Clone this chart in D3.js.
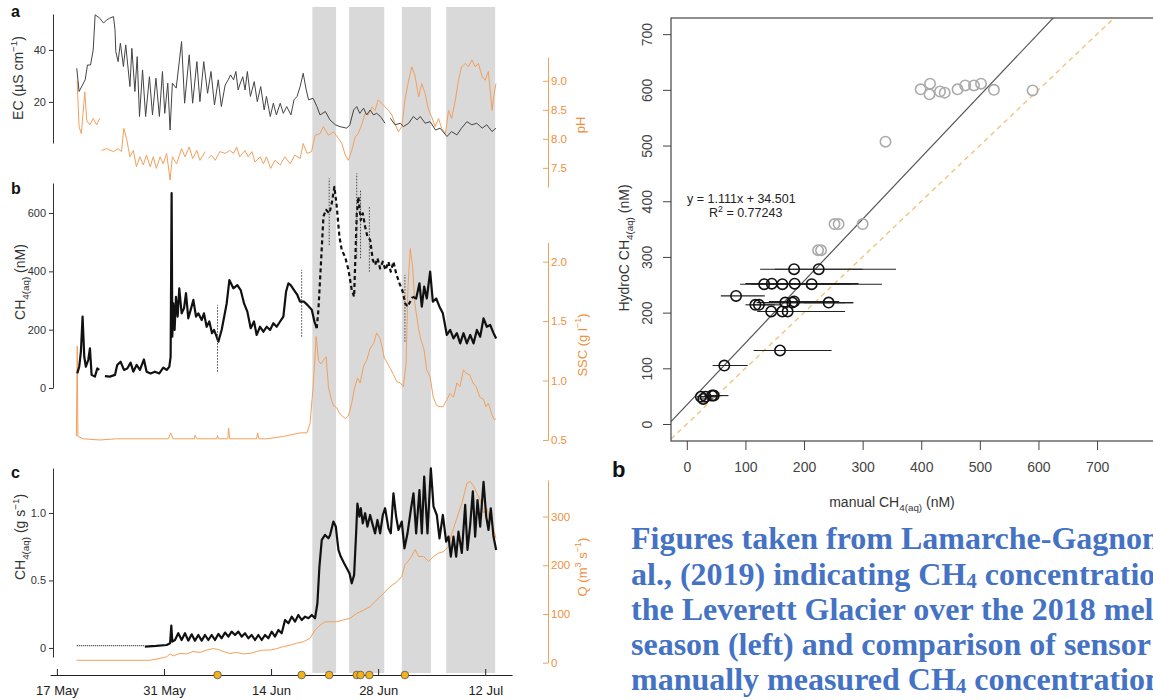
<!DOCTYPE html>
<html lang="en">
<head>
<meta charset="utf-8" />
<title>CH4 at Leverett Glacier, 2018 melt season</title>
<script src="https://d3js.org/d3.v7.min.js"></script>
<style>
    body { margin: 0; padding: 0; background: #fff; }
    svg { display: block; font-family: "Liberation Sans", Arial, sans-serif; }
</style>
</head>
<body>
<svg id="chart"></svg>
<script>
    // ---- time axis (days after 17 May 2018) ----
    var dateTicks = [0, 14, 28, 42, 56];
    var dateLabels = ["17 May", "31 May", "14 Jun", "28 Jun", "12 Jul"];
    var bandStart = [33.4, 38.2, 45.1, 50.9];
    var bandEnd = [36.5, 42.8, 48.9, 57.3];
    // manual sampling days and their CH4 ranges (nM)
    var sampleDays = [21.0, 32.0, 35.6, 39.2, 39.7, 40.85, 45.5];
    var sampleLow = [56, 176, 490, 445, 445, 399, 159];
    var sampleHigh = [285, 405, 719, 736, 679, 622, 388];

    // ---- tick values ----
    var ecTicks = [20, 40];
    var phTicks = [7.5, 8.0, 8.5, 9.0];
    var phLabels = ["7.5", "8.0", "8.5", "9.0"];
    var ch4Ticks = [0, 200, 400, 600];
    var sscTicks = [0.5, 1.0, 1.5, 2.0];
    var sscLabels = ["0.5", "1.0", "1.5", "2.0"];
    var fluxTicks = [0, 0.5, 1.0];
    var fluxLabels = ["0", "0.5", "1.0"];
    var qTicks = [0, 100, 200, 300];
    var scatterTicks = [0, 100, 200, 300, 400, 500, 600, 700];

    // ---- panel a: EC (uS/cm) and pH ----
    var ecData = [[2.6,32.9],[2.9,24],[3.7,28.5],[4.0,34.2],[4.4,34.2],[4.75,40],[5.0,53.5],[5.6,52.2],[6.1,50.3],[6.5,51.5],[6.9,52.2],[7.4,52.8],[7.6,47.7],[7.7,39.4],[8.0,35.5],[8.3,42.6],[8.7,33.6],[9.0,41.9],[9.55,25.9],[9.8,40.6],[10.2,24],[10.5,37.4],[10.8,14.4],[11.2,32.3],[11.6,14.4],[12.1,29.7],[12.5,15],[12.95,29.1],[13.4,14.4],[13.8,31.7],[14.1,15.6],[14.5,27.2],[14.8,9.2],[15.1,27.2],[15.6,25.3],[16.3,43.2],[16.7,19.5],[17.3,38.1],[17.75,19.5],[18.3,35.5],[18.7,20.1],[19.2,35.5],[19.7,23.3],[20.15,31.7],[20.6,18.8],[21.1,28.5],[21.5,18.2],[22.0,26.5],[22.4,28.5],[22.7,30.4],[23.1,28.5],[23.4,31.7],[23.7,24.6],[23.9,26.5],[24.3,29.7],[24.6,24.6],[24.9,31.7],[25.3,22.1],[25.8,27.8],[26.2,20.1],[26.65,25.9],[27.1,16.9],[27.4,22.1],[27.9,14.4],[28.3,19.5],[28.7,15],[29.2,19.5],[29.6,15.6],[30.05,18.2],[30.6,15],[31.0,20.8],[31.4,22.1],[31.8,25.9],[32.2,31],[32.6,24.6],[32.9,20.8],[33.5,21.4],[34.0,18.2],[34.4,15],[35.1,16.3],[35.7,13.1],[36.4,11.2],[37.0,10.5],[37.9,9.9],[38.3,11.2],[38.8,16.9],[39.2,18.2],[39.6,15.6],[40.1,17.6],[40.5,15],[40.95,16.9],[41.4,15],[41.8,15.6],[42.3,14.4],[42.9,11.8],[43.2,null],[43.6,13.7],[44.2,11.2],[44.9,11.8],[45.3,10.5],[46.0,11.8],[46.6,14.4],[47.1,13.1],[47.5,14.4],[48.15,11.8],[48.8,12.4],[49.5,9.2],[50.1,9.9],[51.0,6.7],[51.6,8.6],[52.3,7.3],[52.9,9.9],[53.6,12.4],[54.25,11.2],[54.9,11.8],[55.6,9.9],[56.2,11.2],[56.9,8.6],[57.4,9.9]];
    var phData = [[2.65,9.0],[2.9,8.21],[3.2,8.09],[3.65,8.81],[3.9,8.32],[4.3,8.24],[4.75,8.35],[5.2,8.24],[5.6,8.35],[5.7,null],[5.85,7.8],[6.5,7.83],[7.4,7.78],[8.0,7.83],[8.45,7.78],[8.75,8.18],[9.1,8.01],[9.55,7.69],[10.0,7.8],[10.4,7.52],[10.85,7.69],[11.3,7.55],[11.7,7.72],[12.2,7.52],[12.6,7.69],[13.0,7.49],[13.5,7.69],[13.9,7.57],[14.35,7.75],[14.8,7.29],[15.1,7.69],[15.65,7.57],[16.3,7.83],[16.75,7.69],[17.3,7.86],[17.75,7.66],[18.3,7.8],[18.7,7.63],[19.4,7.78],[19.6,null],[19.8,7.66],[20.2,7.72],[20.7,7.63],[21.3,7.78],[22.0,7.75],[22.6,7.8],[23.1,7.75],[23.5,7.86],[23.9,7.69],[24.6,7.8],[25.0,7.69],[25.5,7.78],[25.9,7.6],[26.6,7.69],[27.0,7.57],[27.4,7.69],[27.95,7.49],[28.5,7.63],[29.2,7.55],[29.8,7.69],[30.5,7.57],[31.1,7.72],[31.8,7.66],[32.2,7.92],[32.7,7.75],[33.3,7.78],[33.75,8.06],[34.4,8.09],[34.85,8.21],[35.5,8.06],[36.15,8.12],[36.8,8.01],[37.25,7.92],[37.7,7.72],[38.1,7.63],[38.55,7.8],[39.0,8.03],[39.4,8.09],[39.9,8.26],[40.3,8.44],[40.7,8.41],[41.2,8.55],[41.6,8.49],[42.0,8.67],[42.5,8.61],[42.9,8.55],[43.35,8.49],[43.8,8.41],[44.2,8.26],[44.65,8.12],[45.1,8.21],[45.5,8.67],[45.95,8.98],[46.4,9.24],[46.8,9.1],[47.3,8.72],[47.7,8.95],[48.15,8.78],[48.6,8.49],[49.0,8.38],[49.45,8.21],[49.9,8.35],[50.3,8.18],[50.8,8.09],[51.2,8.49],[51.6,8.35],[52.1,8.67],[52.5,9.01],[52.9,9.24],[53.4,9.3],[53.8,9.24],[54.25,9.36],[54.7,9.24],[55.1,9.3],[55.6,9.07],[56.0,9.01],[56.4,9.16],[56.9,8.49],[57.1,8.72],[57.4,8.95]];

    // ---- panel b: CH4(aq) (nM) and SSC (g/l) ----
    var ch4SolidA = [[2.66,50],[2.92,73],[3.14,125],[3.36,245],[3.58,107],[3.79,73],[4.1,96],[4.32,136],[4.54,45],[4.97,39],[5.28,67],[5.54,62],[5.9,null],[6.28,41],[6.93,39],[7.59,45],[7.89,79],[8.33,90],[8.77,62],[9.2,67],[9.64,87],[9.99,56],[10.42,79],[10.86,62],[11.38,98],[11.73,56],[12.25,50],[12.82,56],[13.39,50],[13.91,70],[14.35,62],[14.7,73],[14.87,107],[15.0,668],[15.09,176],[15.22,290],[15.39,199],[15.57,313],[15.79,245],[16.0,342],[16.31,256],[16.62,273],[16.88,325],[17.18,239],[17.49,268],[17.84,302],[18.19,245],[18.49,256],[18.93,233],[19.23,256],[19.58,210],[19.93,228],[20.28,188],[20.54,199],[20.8,182],[21.11,159],[21.54,199],[22.2,290],[22.55,370],[23.07,342],[23.59,353],[24.03,336],[24.47,290],[24.9,262],[25.34,205],[25.77,228],[26.12,182],[26.56,210],[27.0,193],[27.43,210],[27.87,199],[28.3,222],[28.74,210],[29.18,228],[29.61,245],[29.96,330],[30.27,359],[30.57,353],[31.0,336],[31.44,319],[31.79,296],[32.32,296],[32.75,285],[33.32,268],[33.67,228],[33.97,205]];
    var ch4Dashed = [[33.97,205],[34.19,268],[34.5,416],[34.85,588],[35.19,611],[35.63,599],[35.94,634],[36.28,690],[36.59,622],[36.94,519],[37.24,473],[37.68,450],[38.12,405],[38.55,336],[38.86,313],[39.21,599],[39.42,656],[39.73,576],[39.99,599],[40.3,553],[40.6,519],[40.95,508],[41.3,439],[41.6,422],[41.91,445],[42.26,410],[42.61,433],[42.96,405],[43.35,433],[43.65,399],[44.0,433],[44.35,393],[44.79,359],[45.22,330],[45.53,290],[45.84,279],[46.18,296],[46.53,313]];
    var ch4SolidB = [[46.53,313],[46.97,307],[47.4,359],[47.71,279],[48.02,348],[48.36,307],[48.8,399],[49.15,296],[49.59,307],[50.02,279],[50.46,256],[50.98,182],[51.42,199],[51.85,170],[52.29,188],[52.73,153],[53.16,188],[53.6,153],[54.04,182],[54.47,153],[54.91,199],[55.34,176],[55.78,239],[56.21,210],[56.65,216],[57.09,188],[57.43,170]];
    var sscData = [[2.55,0.53],[2.66,1.29],[2.75,0.53],[3.45,0.51],[5.6,0.5],[7.8,0.51],[10.0,0.51],[12.2,0.51],[14.55,0.51],[14.87,0.56],[15.2,0.51],[18.0,0.51],[18.05,0.54],[18.3,0.51],[20.9,0.51],[21.0,0.54],[21.1,0.51],[22.35,0.51],[22.45,0.6],[22.6,0.51],[26.1,0.51],[26.25,0.56],[26.4,0.51],[27.43,0.51],[29.6,0.53],[31.8,0.56],[32.7,0.56],[33.1,0.64],[33.5,0.95],[33.9,1.37],[34.2,1.17],[34.5,1.14],[34.85,1.17],[35.2,1.2],[35.5,0.95],[35.8,0.86],[36.15,0.79],[36.6,0.77],[37.0,0.72],[37.7,0.68],[38.1,0.7],[38.55,0.81],[38.85,0.92],[39.3,1.02],[39.65,0.98],[40.1,1.12],[40.5,1.17],[40.95,1.27],[41.4,1.31],[41.8,1.4],[42.2,1.36],[42.5,1.29],[42.8,1.19],[43.1,1.16],[43.6,1.1],[44.0,1.05],[44.45,0.99],[44.9,0.98],[45.3,0.95],[45.65,1.14],[45.9,1.79],[46.2,2.11],[46.5,1.96],[46.8,1.65],[47.3,1.43],[47.6,1.34],[48.0,1.26],[48.35,1.09],[48.8,1.03],[49.2,0.86],[49.65,0.79],[50.1,0.78],[50.5,0.78],[50.98,0.84],[51.4,0.89],[51.85,0.86],[52.3,0.98],[52.7,0.95],[53.15,1.09],[53.5,1.06],[53.95,1.05],[54.4,0.98],[54.8,0.95],[55.3,0.86],[55.8,0.84],[56.1,0.78],[56.4,0.81],[56.9,0.71],[57.2,0.67],[57.4,0.68]];

    // ---- panel c: CH4 flux (g/s) and discharge Q (m3/s) ----
    var fluxDotted = [[2.6,0.017],[11.5,0.017]];
    var fluxData = [[11.5,0.01],[13.0,0.015],[14.35,0.022],[14.8,0.035],[14.96,0.165],[15.09,0.047],[15.44,0.059],[15.87,0.109],[16.31,0.059],[16.75,0.109],[17.18,0.054],[17.62,0.101],[18.05,0.054],[18.49,0.096],[18.93,0.054],[19.36,0.096],[19.8,0.059],[20.24,0.096],[20.67,0.059],[21.11,0.104],[21.54,0.072],[21.98,0.114],[22.42,0.084],[22.85,0.121],[23.29,0.096],[23.72,0.121],[24.16,0.084],[24.6,0.109],[25.03,0.072],[25.47,0.096],[25.9,0.059],[26.34,0.096],[26.78,0.059],[27.21,0.096],[27.65,0.072],[28.09,0.121],[28.52,0.084],[28.96,0.133],[29.39,0.109],[29.83,0.207],[30.27,0.183],[30.7,0.232],[31.14,0.195],[31.57,0.244],[32.01,0.207],[32.45,0.232],[32.88,0.22],[33.32,0.244],[33.75,0.22],[34.06,0.331],[34.32,0.6],[34.63,0.8],[35.06,0.837],[35.5,0.812],[35.72,0.837],[36.15,0.936],[36.46,0.9],[36.81,0.726],[37.11,0.677],[37.55,0.627],[37.9,0.59],[38.25,0.553],[38.55,0.479],[38.86,0.541],[39.12,0.849],[39.29,1.07],[39.55,0.973],[39.73,1.035],[39.99,0.923],[40.3,0.998],[40.6,0.899],[40.95,0.985],[41.3,0.91],[41.6,0.849],[41.91,0.948],[42.26,0.849],[42.61,0.985],[42.91,1.035],[43.35,0.886],[43.65,0.849],[44.0,1.146],[44.35,0.973],[44.66,0.874],[45.09,0.936],[45.44,0.738],[45.84,0.849],[46.27,1.022],[46.62,1.146],[46.97,0.849],[47.4,1.17],[47.71,0.849],[48.02,1.27],[48.45,0.849],[48.89,1.33],[49.24,1.047],[49.67,0.985],[50.02,0.812],[50.46,0.985],[50.89,0.788],[51.2,0.825],[51.5,0.677],[51.85,0.825],[52.2,0.677],[52.5,0.862],[52.94,0.704],[53.38,1.06],[53.68,0.726],[54.03,0.91],[54.38,1.16],[54.68,0.825],[54.99,1.096],[55.34,0.899],[55.78,1.23],[56.13,0.973],[56.43,0.874],[56.73,1.035],[57.08,0.825],[57.43,0.726]];
    var qData = [[2.57,5],[12.2,5],[13.5,9],[14.35,12],[14.8,18],[15.2,14],[16.1,19],[16.95,18],[17.8,23],[18.7,21],[19.6,26],[20.45,29],[21.1,27],[21.75,23],[22.6,19],[23.5,21],[24.4,18],[25.25,19],[26.1,23],[27.0,26],[27.9,26],[28.75,29],[29.6,33],[30.5,36],[31.35,40],[32.2,43],[33.1,50],[33.75,67],[34.4,77],[35.06,84],[35.7,84],[36.6,84],[37.5,88],[38.3,91],[39.2,101],[40.1,108],[40.95,115],[41.8,129],[42.7,142],[43.55,156],[44.45,166],[45.1,177],[45.5,201],[46.2,214],[46.85,232],[47.3,218],[47.95,218],[48.6,208],[49.25,218],[49.9,225],[50.55,228],[51.2,238],[51.65,266],[52.3,297],[52.95,327],[53.6,368],[54.05,372],[54.5,362],[54.9,348],[55.35,334],[55.8,307],[56.2,317],[56.65,293],[57.1,273],[57.4,255]];

    // ---- scatter: manual vs HydroC CH4 (nM) ----
    var manualX = [183, 225, 132, 145, 163, 184, 213, 84, 117, 123, 168, 180, 183, 242, 144, 163, 172, 159, 64, 24, 28, 32, 43, 46];
    var hydroY = [278, 278, 251, 252, 251, 252, 251, 230, 214, 214, 218, 218, 220, 218, 202, 202, 202, 132, 105, 49, 45, 49, 51, 51];
    var manualLo = [125, 150, 91, 100, 110, 120, 150, 58, 100, 110, 119, 130, 140, 200, 120, 130, 140, 114, 44, 17, 20, 22, 30, 35];
    var manualHi = [300, 357, 260, 293, 333, 290, 280, 133, 150, 160, 270, 284, 260, 284, 180, 270, 250, 247, 104, 50, 45, 55, 71, 60];
    var greyX = [399, 415, 414, 432, 440, 462, 475, 490, 502, 524, 590, 339, 252, 259, 300, 224, 229];
    var greyY = [601, 611, 592, 597, 595, 601, 608, 608, 611, 600, 599, 507, 359, 359, 359, 312, 312];
    var fitSlope = 1.111, fitIntercept = 34.501, fitR2 = "0.77243";

    var w = 1153, h = 700;
    var ink = "#333", orange = "#f2a05c", orangeText = "#ee9040";

    var svg = d3.select("#chart").attr("width", w).attr("height", h);

    // shared time scale
    var x = d3.scaleLinear().domain([-0.9, 59.5]).range([50, 512]);

    var ecY = d3.scaleLinear().domain([4.2, 53.8]).range([143, 14]);
    var phY = d3.scaleLinear().domain([7.17, 9.41]).range([187, 57]);
    var ch4Y = d3.scaleLinear().domain([0, 703]).range([388, 183]);
    var sscY = d3.scaleLinear().domain([0.5, 2.16]).range([440, 242.6]);
    var fluxY = d3.scaleLinear().domain([-0.067, 1.333]).range([657, 468]);
    var qY = d3.scaleLinear().domain([0, 375]).range([662.7, 480]);

    // grey shaded periods
    svg.selectAll("rect.band")
        .data(bandStart)
        .enter().append("rect")
        .attr("class", "band")
        .attr("x", function(d) { return x(d); })
        .attr("width", function(d, i) { return x(bandEnd[i]) - x(d); })
        .attr("y", 7)
        .attr("height", 666)
        .attr("fill", "#d9d9d9");

    function drawLine(data, yScale, color, width, dash) {
        svg.append("path")
            .datum(data)
            .attr("fill", "none")
            .attr("stroke", color)
            .attr("stroke-width", width)
            .attr("stroke-linejoin", "round")
            .attr("stroke-dasharray", dash || null)
            .attr("d", d3.line()
                .defined(function(d) { return d[1] !== null; })
                .x(function(d) { return x(d[0]); })
                .y(function(d) { return yScale(d[1]); }));
    }

    // orange series underneath
    drawLine(phData, phY, orange, 1, null);
    drawLine(sscData, sscY, orange, 1, null);
    drawLine(qData, qY, orange, 1, null);

    // black series
    drawLine(ecData, ecY, "#444", 1, null);
    drawLine(ch4SolidA, ch4Y, "#111", 2.2, null);
    drawLine(ch4Dashed, ch4Y, "#111", 2.2, "4,3");
    drawLine(ch4SolidB, ch4Y, "#111", 2.2, null);
    drawLine(fluxDotted, fluxY, "#333", 1.4, "1,1");
    drawLine(fluxData, fluxY, "#111", 2.2, null);

    // manual sample ranges (dotted verticals)
    svg.selectAll("line.sample")
        .data(sampleDays)
        .enter().append("line")
        .attr("class", "sample")
        .attr("x1", function(d) { return x(d); })
        .attr("x2", function(d) { return x(d); })
        .attr("y1", function(d, i) { return ch4Y(sampleLow[i]); })
        .attr("y2", function(d, i) { return ch4Y(sampleHigh[i]); })
        .attr("stroke", "#444")
        .attr("stroke-width", 1)
        .attr("stroke-dasharray", "1.5,1.5");

    // axes
    function styleAxis(g, color, size) {
        g.attr("font-family", null).attr("font-size", null);
        g.select(".domain").attr("stroke", color);
        g.selectAll(".tick line").attr("stroke", color);
        g.selectAll(".tick text").attr("fill", color).attr("font-size", size);
    }

    function leftAxis(scale, ticks, labels) {
        var g = svg.append("g")
            .attr("transform", "translate(53,0)")
            .call(d3.axisLeft(scale)
                .tickValues(ticks)
                .tickFormat(function(d, i) { return labels ? labels[i] : d; })
                .tickSizeInner(4).tickSizeOuter(0).tickPadding(3));
        styleAxis(g, ink, 11);
    }

    function rightAxis(scale, ticks, labels) {
        var g = svg.append("g")
            .attr("transform", "translate(548,0)")
            .call(d3.axisRight(scale)
                .tickValues(ticks)
                .tickFormat(function(d, i) { return labels ? labels[i] : d; })
                .tickSizeInner(-5).tickSizeOuter(0).tickPadding(3));
        styleAxis(g, orange, 11.5);
        g.selectAll(".tick text").attr("fill", orangeText);
    }

    leftAxis(ecY, ecTicks);
    leftAxis(ch4Y, ch4Ticks);
    leftAxis(fluxY, fluxTicks, fluxLabels);
    rightAxis(phY, phTicks, phLabels);
    rightAxis(sscY, sscTicks, sscLabels);
    rightAxis(qY, qTicks);

    var xAxisG = svg.append("g")
        .attr("transform", "translate(0,675)")
        .call(d3.axisBottom(x)
            .tickValues(dateTicks)
            .tickFormat(function(d, i) { return dateLabels[i]; })
            .tickSizeInner(-6).tickSizeOuter(0).tickPadding(11));
    styleAxis(xAxisG, "#222", 13);

    // sampling day markers on the time axis
    svg.selectAll("circle.day")
        .data(sampleDays)
        .enter().append("circle")
        .attr("class", "day")
        .attr("cx", function(d) { return x(d); })
        .attr("cy", 675)
        .attr("r", 3.8)
        .attr("fill", "#f2b21c")
        .attr("stroke", "#555")
        .attr("stroke-width", 0.8);

    // rich text helper: parts are [text, "sub" | "sup" | ""]
    function richText(parent, parts, size, subShift, smallScale) {
        subShift = subShift === undefined ? 0.3 : subShift;
        smallScale = smallScale || 0.7;
        var t = parent.append("text").attr("font-size", size);
        var cur = 0;
        parts.forEach(function(p) {
            var off = p[1] === "sub" ? size * subShift : (p[1] === "sup" ? -size * 0.4 : 0);
            var ts = t.append("tspan").text(p[0]).attr("dy", off - cur);
            if (p[1]) ts.attr("font-size", size * smallScale);
            cur = off;
        });
        return t;
    }

    function vLabel(cx, cy, parts, color, size) {
        var g = svg.append("g").attr("transform", "translate(" + cx + "," + cy + ") rotate(-90)");
        richText(g, parts, size)
            .attr("text-anchor", "middle")
            .attr("y", size * 0.35)
            .attr("fill", color);
    }

    vLabel(18, 78, [["EC (\u00b5S cm", ""], ["\u22121", "sup"], [")", ""]], ink, 14);
    vLabel(20, 282, [["CH", ""], ["4(aq)", "sub"], [" (nM)", ""]], ink, 14);
    vLabel(20, 537, [["CH", ""], ["4(aq)", "sub"], [" (g s", ""], ["\u22121", "sup"], [")", ""]], ink, 14);
    vLabel(580, 125, [["pH", ""]], orangeText, 13);
    vLabel(582, 345, [["SSC (g l", ""], ["\u22121", "sup"], [")", ""]], orangeText, 13);
    vLabel(582, 567, [["Q", ""], [" (m", ""], ["3", "sup"], [" s", ""], ["\u22121", "sup"], [")", ""]], orangeText, 13);

    // panel letters
    [["a", 17], ["b", 194], ["c", 478]].forEach(function(p) {
        svg.append("text").attr("x", 11).attr("y", p[1])
            .attr("font-size", 16).attr("font-weight", "bold").attr("fill", "#111")
            .text(p[0]);
    });

    // ---- scatter plot ----
    var sx = d3.scaleLinear().domain([-27, 805]).range([671, 1158.6]);
    var sy = d3.scaleLinear().domain([-30.5, 729]).range([441, 18]);

    svg.append("clipPath").attr("id", "plotClip")
        .append("rect").attr("x", 671).attr("y", 18).attr("width", 500).attr("height", 423);

    var plot = svg.append("g").attr("clip-path", "url(#plotClip)");

    plot.append("line")
        .attr("x1", sx(-27)).attr("y1", sy(-27))
        .attr("x2", sx(780)).attr("y2", sy(780))
        .attr("stroke", "#f2c47c").attr("stroke-width", 1.4)
        .attr("stroke-dasharray", "5,4");

    plot.append("line")
        .attr("x1", sx(-27)).attr("y1", sy(fitSlope * -27 + fitIntercept))
        .attr("x2", sx(700)).attr("y2", sy(fitSlope * 700 + fitIntercept))
        .attr("stroke", "#555").attr("stroke-width", 1.2);

    plot.selectAll("line.err")
        .data(manualX)
        .enter().append("line")
        .attr("class", "err")
        .attr("x1", function(d, i) { return sx(manualLo[i]); })
        .attr("x2", function(d, i) { return sx(manualHi[i]); })
        .attr("y1", function(d, i) { return sy(hydroY[i]); })
        .attr("y2", function(d, i) { return sy(hydroY[i]); })
        .attr("stroke", "#222").attr("stroke-width", 1.1);

    plot.selectAll("circle.grey")
        .data(greyX)
        .enter().append("circle")
        .attr("class", "grey")
        .attr("cx", function(d) { return sx(d); })
        .attr("cy", function(d, i) { return sy(greyY[i]); })
        .attr("r", 5.2)
        .attr("fill", "none").attr("stroke", "#aaa").attr("stroke-width", 1.6);

    plot.selectAll("circle.pt")
        .data(manualX)
        .enter().append("circle")
        .attr("class", "pt")
        .attr("cx", function(d) { return sx(d); })
        .attr("cy", function(d, i) { return sy(hydroY[i]); })
        .attr("r", 5.2)
        .attr("fill", "none").attr("stroke", "#111").attr("stroke-width", 1.6);

    svg.append("rect")
        .attr("x", 671).attr("y", 18).attr("width", 500).attr("height", 423)
        .attr("fill", "none").attr("stroke", "#444").attr("stroke-width", 1.2);

    var sxAxis = svg.append("g")
        .attr("transform", "translate(0,441)")
        .call(d3.axisBottom(sx).tickValues(scatterTicks).tickSizeInner(9).tickSizeOuter(0).tickPadding(12));
    styleAxis(sxAxis, "#444", 14);
    sxAxis.select(".domain").remove();

    var syAxis = svg.append("g")
        .attr("transform", "translate(671,0)")
        .call(d3.axisLeft(sy).tickValues(scatterTicks).tickSizeInner(8).tickSizeOuter(0));
    styleAxis(syAxis, "#444", 14);
    syAxis.select(".domain").remove();
    syAxis.selectAll(".tick text")
        .attr("transform", "rotate(-90)")
        .attr("x", 0).attr("y", -19).attr("dy", 0)
        .attr("text-anchor", "middle");

    richText(svg, [["y = " + fitSlope + "x  + " + fitIntercept, ""]], 12.5)
        .attr("x", 687).attr("y", 203).attr("fill", "#222");
    richText(svg, [["R", ""], ["2", "sup"], [" = " + fitR2, ""]], 12.5)
        .attr("x", 709).attr("y", 217).attr("fill", "#222");

    vLabel(624, 248, [["HydroC CH", ""], ["4(aq)", "sub"], [" (nM)", ""]], ink, 14);
    richText(svg, [["manual CH", ""], ["4(aq)", "sub"], [" (nM)", ""]], 14)
        .attr("x", 892).attr("y", 507).attr("text-anchor", "middle").attr("fill", ink);

    svg.append("text").attr("x", 612).attr("y", 477)
        .attr("font-size", 22).attr("font-weight", "bold").attr("fill", "#111")
        .text("b");

    // ---- caption (runs off the right edge, as in the source image) ----
    var captionLines = [
        [["Figures taken from Lamarche-Gagnon et", ""]],
        [["al., (2019) indicating CH", ""], ["4", "sub"], [" concentrations at", ""]],
        [["the Leverett Glacier over the 2018 melt", ""]],
        [["season (left) and comparison of sensor and", ""]],
        [["manually measured CH", ""], ["4", "sub"], [" concentrations", ""]]
    ];
    var captionY = [549, 585, 620, 655, 690];
    captionLines.forEach(function(parts, i) {
        richText(svg, parts, 32, 0.08, 0.66)
            .attr("x", 631).attr("y", captionY[i])
            .attr("font-family", "\"Liberation Serif\", \"Times New Roman\", serif")
            .attr("font-weight", "bold")
            .attr("fill", "#4472c4");
    });
</script>
</body>
</html>
